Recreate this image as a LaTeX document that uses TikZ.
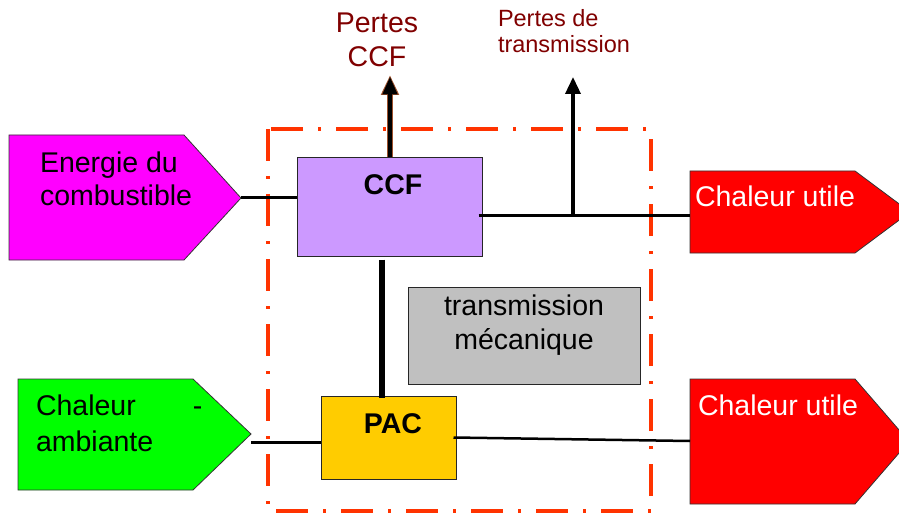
\documentclass[tikz,border=0pt]{standalone}
\usepackage{fontspec}
\setmainfont{Liberation Sans}
\usetikzlibrary{arrows.meta}
\definecolor{cMagenta}{HTML}{FF00FF}
\definecolor{cGreen}{HTML}{00FF00}
\definecolor{cRed}{HTML}{FF0000}
\definecolor{cFrame}{HTML}{FF3300}
\definecolor{cCCF}{HTML}{CC99FF}
\definecolor{cPAC}{HTML}{FFCC00}
\definecolor{cGray}{HTML}{C0C0C0}
\definecolor{cLoss}{HTML}{800000}
\definecolor{cEdge}{HTML}{A0522D}
\newcommand\bigtxt{\fontsize{28.5}{34}\selectfont}
\begin{document}
\begin{tikzpicture}[x=1pt,y=-1pt,
  pent/.style={draw=black!80, line width=0.8pt},
  boxnode/.style={draw=black!85, line width=1pt, inner sep=0pt},
  txt/.style={inner sep=0pt, outer sep=0pt},
  conn/.style={draw=black, line width=3pt},
  lossarrow/.style={draw=black, -{Triangle[length=17pt,width=15pt]}},
  frame/.style={draw=cFrame, line width=4pt, dash pattern=on 32pt off 15pt on 3pt off 15pt}
]
\useasboundingbox (0,0) rectangle (899,513);
\clip (0,0) rectangle (899,513);

% dash-dot frame
\draw[frame] (268,129) rectangle (651,511);

% pentagons
\filldraw[pent, fill=cMagenta] (9,135) -- (184,135) -- (241,198) -- (184,260) -- (9,260) -- cycle;
\filldraw[pent, fill=cGreen] (18,379) -- (193,379) -- (251,434) -- (193,490) -- (18,490) -- cycle;
\filldraw[pent, fill=cRed] (690,171) -- (855,171) -- (910,212) -- (855,253) -- (690,253) -- cycle;
\filldraw[pent, fill=cRed] (690,379) -- (855,379) -- (909,441.5) -- (855,504) -- (690,504) -- cycle;

% named connection points
\coordinate (eout) at (241,198);
\coordinate (aout) at (251,442);
\coordinate (cu1in) at (690,215);
\coordinate (cu2in) at (690,441);
\coordinate (jct) at (573,215);
\coordinate (pttip) at (573,77);
\coordinate (pccftip) at (390,75);

% boxes
\node[boxnode, fill=cCCF, minimum width=185pt, minimum height=98pt] (ccf) at (389.5,207) {};
\node[boxnode, fill=cPAC, minimum width=135pt, minimum height=83pt] (pac) at (388.5,437.5) {};
\node[boxnode, fill=cGray, minimum width=232pt, minimum height=97pt] (trans) at (524,335.5) {};

% connectors
\draw[conn] (eout) -- (eout -| ccf.west);
\draw[conn] (aout) -- (aout -| pac.west);
\draw[conn] ([xshift=-4pt,yshift=-8pt]ccf.east) -- (cu1in);
\draw[conn, line width=2.5pt] ([xshift=-3pt]pac.east) -- (cu2in);
\draw[conn, line width=6pt] ([xshift=-7.5pt,yshift=-3pt]ccf.south) -- ([xshift=-6.5pt,yshift=-2pt]pac.north);
\draw[lossarrow, line width=3.5pt] (jct) -- (pttip);
\draw[draw=cEdge, line width=6.5pt, -{Triangle[length=20pt,width=17pt]}] ([xshift=0.5pt]ccf.north) -- (pccftip);
\draw[draw=black, line width=4.5pt, -{Triangle[length=18pt,width=14pt]}] ([xshift=0.5pt]ccf.north) -- ([yshift=-1.5pt]pccftip);

% texts
\node[txt, anchor=west, align=left, font=\fontsize{28.5}{33}\selectfont] (energie) at (40,179) {Energie du\\combustible};
\node[txt, anchor=west, align=left, font=\fontsize{28.5}{36}\selectfont] (amb) at (36,423) {Chaleur\hspace*{57pt}-\\ambiante};
\node[txt, align=center, text=cLoss, font=\fontsize{28.5}{34}\selectfont] (pccf) at (377,40) {Pertes\\CCF};
\node[txt, anchor=west, align=left, text=cLoss, font=\fontsize{23.5}{26}\selectfont] (ptrans) at (498,31.5) {Pertes de\\transmission};
\node[txt, anchor=base west, text=white, font=\bigtxt] (cu1) at (695,207) {Chaleur utile};
\node[txt, anchor=base west, text=white, font=\bigtxt] (cu2) at (698,415) {Chaleur utile};
\node[txt, align=center, font=\fontsize{28.5}{34}\selectfont] (transtxt) at (524,325.5) {transmission\\mécanique};
\node[txt, anchor=base, font=\bigtxt\bfseries] (ccftxt) at (393,195) {CCF};
\node[txt, anchor=base, font=\bigtxt\bfseries] (pactxt) at (393,433) {PAC};
\end{tikzpicture}
\end{document}
